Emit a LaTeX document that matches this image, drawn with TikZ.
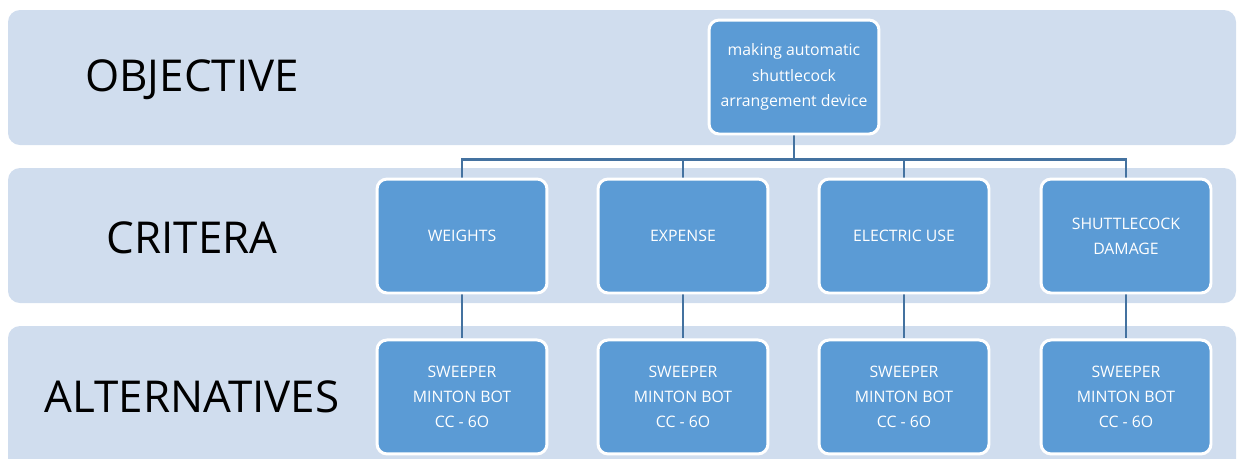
\documentclass[tikz,border=0pt]{standalone}
\usepackage{fontspec}
\setmainfont{Open Sans}
\usetikzlibrary{positioning}
\usetikzlibrary{backgrounds}
\definecolor{bandblue}{RGB}{208,221,238}
\definecolor{boxblue}{RGB}{91,155,213}
\definecolor{lineblue}{RGB}{68,114,160}
\tikzset{band/.style={fill=bandblue,rounded corners=0.24cm},
boxnode/.style={fill=boxblue,draw=white,line width=1.7pt,rounded corners=0.2cm,minimum width=3.4cm,minimum height=2.28cm,text=white,align=center,font=\fontsize{9}{14.3}\selectfont},
conn/.style={draw=lineblue,line width=1.6pt},
level/.style={font=\fontsize{25}{30}\selectfont,text=black}}

\begin{document}
\begin{tikzpicture}[x=0.02cm,y=-0.02cm]
\useasboundingbox (0,0) rectangle (1241,458);
\begin{scope}[on background layer]
\fill[band] (8,10) rectangle (1236,145);
\fill[band] (8,168) rectangle (1236,303);
\fill[band] (8,326) rectangle (1236,480);
\end{scope}
\node (objective) at (192,80) [level] {OBJECTIVE};
\node (criteria) at (192,238) [level] {CRITERA};
\node (alternatives) at (192,397) [level] {ALTERNATIVES};
\node (goal) at (794,77) [boxnode] {making automatic\\shuttlecock\\arrangement device};
\foreach \x/\xpos/\txt in {1/462/WEIGHTS, 2/683/EXPENSE, 3/904/ELECTRIC USE, 4/1126/{SHUTTLECOCK\\DAMAGE}} {
\node (c\x) at (\xpos,236) [boxnode] {\txt};
\node (a\x) [below=0.88cm of c\x, boxnode] {SWEEPER\\MINTON BOT\\CC - 6O};
}
\begin{scope}[on background layer]
\foreach \x in {1,2,3,4} {
\draw[conn] (goal.south) -- ++(0,24) -| (c\x.north);
\draw[conn] (c\x) -- (a\x);
}
\end{scope}
\end{tikzpicture}
\end{document}
